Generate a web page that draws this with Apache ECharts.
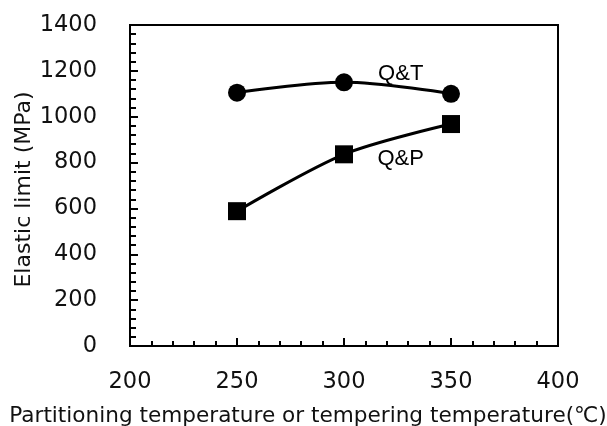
<!DOCTYPE html>
<html><head><meta charset="utf-8">
<script src="https://cdn.jsdelivr.net/npm/echarts@6/dist/echarts.min.js"></script>
<style>html,body{margin:0;padding:0;background:#fff}#c{width:607px;height:426px}</style>
</head><body><div id="c"></div>
<script>
const temps = [250, 300, 350];
const qtValues = [1105, 1150, 1100];
const qpValues = [588, 836, 968];
const qtLabel = 'Q&T';
const qpLabel = 'Q&P';
const xTitle = 'Partitioning temperature or tempering temperature(℃)';
const yTitle = 'Elastic limit (MPa)';

const chart = echarts.init(document.getElementById('c'), null, {renderer: 'canvas'});
const tickFont = {fontFamily: 'DejaVu Sans', fontSize: 22.5, color: '#111'};
chart.setOption({
  animation: false,
  backgroundColor: '#fff',
  grid: {left: 130, right: 49, top: 25, bottom: 80, containLabel: false, outerBoundsMode: 'none',
         show: true, borderColor: '#000', borderWidth: 2},
  xAxis: {
    type: 'value', min: 200, max: 400, interval: 50,
    name: xTitle, nameLocation: 'middle', nameGap: 59, nameMoveOverlap: false,
    nameTextStyle: {fontFamily: 'DejaVu Sans', fontSize: 21.6, color: '#111', padding: [0, 72, 0, 0]},
    axisLine: {show: true, lineStyle: {color: '#000', width: 2}},
    axisTick: {show: true, inside: true, length: 8, lineStyle: {color: '#000', width: 2}},
    minorTick: {show: true, splitNumber: 5, length: 5, lineStyle: {color: '#000', width: 2}},
    splitLine: {show: false},
    axisLabel: Object.assign({margin: 25, formatter: v => String(v)}, tickFont)
  },
  yAxis: {
    type: 'value', min: 0, max: 1400, interval: 200,
    name: yTitle, nameLocation: 'middle', nameGap: 95, nameRotate: 90, nameMoveOverlap: false,
    nameTextStyle: {fontFamily: 'DejaVu Sans', fontSize: 22, color: '#111', padding: [0, 8, 0, 0]},
    axisLine: {show: true, lineStyle: {color: '#000', width: 2}},
    axisTick: {show: true, inside: true, length: 8, lineStyle: {color: '#000', width: 2}},
    minorTick: {show: true, splitNumber: 5, length: 6, lineStyle: {color: '#000', width: 2}},
    splitLine: {show: false},
    axisLabel: Object.assign({margin: 33, formatter: v => String(v)}, tickFont)
  },
  series: [
    {
      type: 'line', data: temps.map((t, i) => [t, qtValues[i]]),
      smooth: 0.35, symbol: 'circle', symbolSize: 18,
      lineStyle: {color: '#000', width: 3}, itemStyle: {color: '#000'},
      markPoint: {
        symbol: 'circle', symbolSize: 0,
        label: {show: true, position: 'inside', formatter: qtLabel, fontFamily: 'Liberation Sans', fontSize: 22, color: '#000'},
        data: [{coord: [326.5, 1185]}]
      }
    },
    {
      type: 'line', data: temps.map((t, i) => [t, qpValues[i]]),
      smooth: 0.3, symbol: 'rect', symbolSize: 18,
      lineStyle: {color: '#000', width: 3}, itemStyle: {color: '#000'},
      markPoint: {
        symbol: 'circle', symbolSize: 0,
        label: {show: true, position: 'inside', formatter: qpLabel, fontFamily: 'Liberation Sans', fontSize: 22, color: '#000'},
        data: [{coord: [326.5, 818]}]
      }
    }
  ]
});
</script></body></html>
